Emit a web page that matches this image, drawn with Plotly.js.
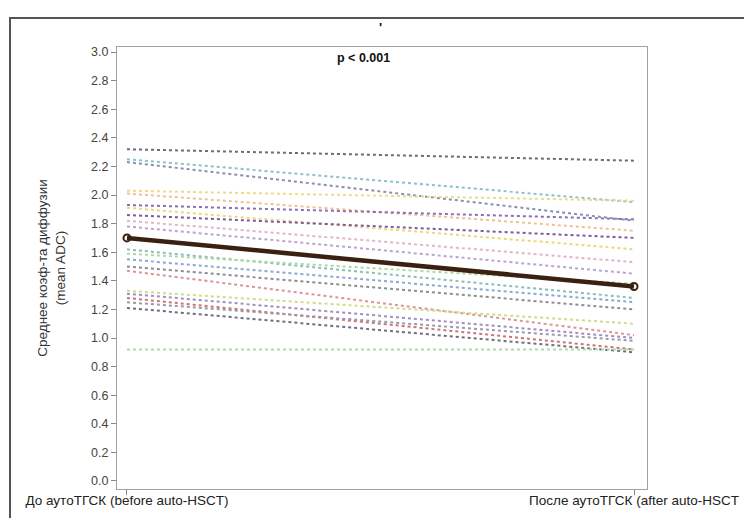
<!DOCTYPE html>
<html>
<head>
<meta charset="utf-8">
<script src="https://cdn.plot.ly/plotly-3.0.1.min.js"></script>
<style>
html,body{margin:0;padding:0;background:#fff;}
#chart{width:744px;height:518px;position:relative;}
#frame{position:absolute;left:9px;top:17px;width:760px;height:520px;border:2px solid #555;pointer-events:none;}
</style>
</head>
<body>
<div style="position:relative;width:744px;height:518px;overflow:hidden;">
<div id="chart"></div>
<div id="frame"></div>
</div>
<script>
var categories = ["До аутоТГСК (before auto-HSCT)", "После аутоТГСК (after auto-HSCT"];
var before = [2.32, 2.25, 2.23, 2.03, 2.01, 1.93, 1.91, 1.86, 1.82, 1.78, 1.62, 1.59, 1.55, 1.50, 1.47, 1.33, 1.31, 1.28, 1.25, 1.21, 0.92];
var after  = [2.24, 1.95, 1.82, 1.96, 1.75, 1.83, 1.62, 1.70, 1.53, 1.45, 1.28, 1.38, 1.25, 1.20, 1.02, 1.10, 1.00, 0.92, 0.98, 0.90, 0.92];
var meanValues = [1.70, 1.36];
var yTicks = [0.0, 0.2, 0.4, 0.6, 0.8, 1.0, 1.2, 1.4, 1.6, 1.8, 2.0, 2.2, 2.4, 2.6, 2.8, 3.0];
var pValueText = "p < 0.001";
var yTitle = "Среднее коэф-та диффузии<br>(mean ADC)";

var palette = ["#6b6b7a", "#8cc0cc", "#8a8fb0", "#ecdc8a", "#f2c090", "#8a6fb5", "#ebd87a", "#7d5aa0",
               "#e4b3cc", "#bba3d4", "#86c0b8", "#b0d8a4", "#8aa8d4", "#8c8c95", "#dc9494", "#cedd88",
               "#a28cc4", "#cc7474", "#9a9aa8", "#6e6e7e", "#b0dca8"];

var xs = [0, 1];
var traces = [];
for (var i = 0; i < before.length; i++) {
  traces.push({
    x: xs, y: [before[i], after[i]], type: 'scatter', mode: 'lines',
    line: {color: palette[i % palette.length], width: 2, dash: 'dot'},
    hoverinfo: 'skip', showlegend: false
  });
}
traces.push({
  x: xs, y: meanValues, type: 'scatter', mode: 'lines+markers',
  line: {color: '#3a2010', width: 4.5},
  marker: {symbol: 'circle-open', size: 7, color: '#3a2010', line: {width: 2, color: '#3a2010'}},
  showlegend: false
});

var layout = {
  width: 744, height: 518,
  margin: {l: 117, r: 97, t: 47, b: 29},
  paper_bgcolor: 'rgba(0,0,0,0)', plot_bgcolor: '#fff',
  font: {family: 'Liberation Sans, Arial, sans-serif', size: 12, color: '#333'},
  showlegend: false,
  xaxis: {
    range: [-0.0197, 1.0256], tickvals: xs, ticktext: categories,
    showgrid: false, zeroline: false, showline: true, mirror: true,
    linecolor: '#a0a0a0', linewidth: 1,
    ticks: 'outside', ticklen: 5, tickcolor: '#888',
    ticklabelstandoff: -6,
    tickfont: {size: 13.5, color: '#222'}
  },
  yaxis: {
    range: [-0.056, 3.035], tickvals: yTicks,
    ticktext: yTicks.map(function(v){return v.toFixed(1);}),
    showgrid: false, zeroline: false, showline: true, mirror: true,
    linecolor: '#a0a0a0', linewidth: 1,
    ticks: 'outside', ticklen: 5, tickcolor: '#888',
    tickfont: {size: 12.5, color: '#444'},
    title: {text: yTitle, font: {size: 13.5, color: '#333'}, standoff: 22}
  },
  annotations: [
    {xref: 'paper', yref: 'paper', x: 0.465, y: 0.975, yanchor: 'middle', text: '<b>' + pValueText + '</b>',
     showarrow: false, font: {size: 12.5, color: '#111'}},
    {xref: 'paper', yref: 'paper', x: 0.497, y: 1.045, yanchor: 'middle', text: '<b>\'</b>',
     showarrow: false, font: {size: 13, color: '#111'}}
  ]
};

Plotly.newPlot('chart', traces, layout, {displayModeBar: false, staticPlot: true});
</script>
</body>
</html>
